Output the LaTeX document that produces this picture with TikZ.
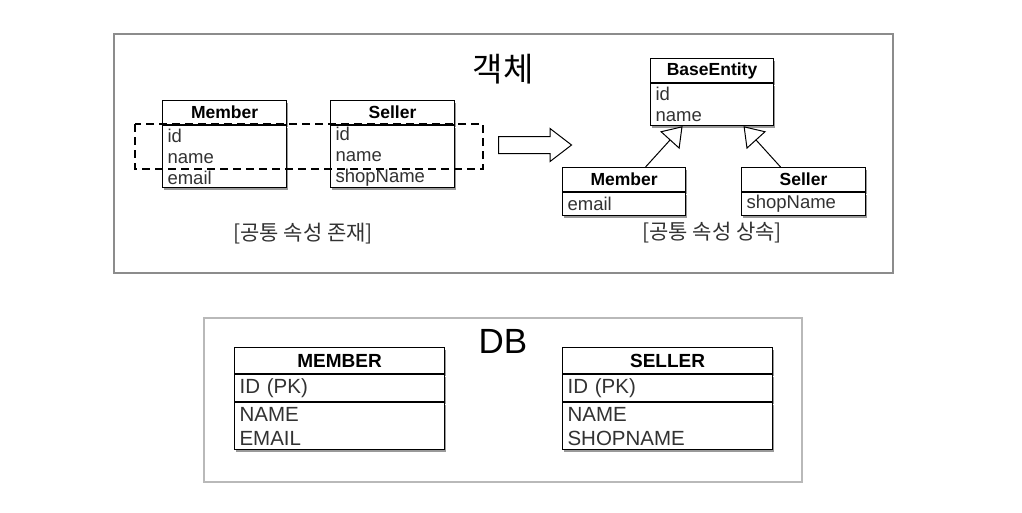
\documentclass[tikz,border=0pt]{standalone}
\usepackage{fontspec}
\setmainfont{Liberation Sans}
\newfontfamily\krfont{Noto Sans CJK KR}
\usepackage{tikz}
\usetikzlibrary{arrows.meta,shadows,shapes.arrows}
\definecolor{framegray}{RGB}{140,140,140}
\definecolor{dbgray}{RGB}{185,185,185}
\definecolor{txtgray}{RGB}{50,50,50}
\newcommand\hdrfont{\fontsize{17.5}{20}\selectfont\bfseries}
\newcommand\attrfont{\fontsize{18.5}{21}\selectfont}
\newcommand\dbhdrfont{\fontsize{19}{22}\selectfont\bfseries}
\newcommand\dbattrfont{\fontsize{20.5}{24}\selectfont}
\tikzset{
  frame/.style={draw=framegray, line width=1.4pt},
  dbframe/.style={draw=dbgray, line width=1.2pt},
  boxshadow/.style={drop shadow={shadow xshift=1.2pt, shadow yshift=-2.5pt, opacity=.4, fill=black}},
  hdr/.style 2 args={draw, fill=white, line width=1.1pt, boxshadow, anchor=north west,
    inner sep=0pt, minimum width=#1, minimum height=#2},
  attrs/.style 2 args={draw, fill=white, line width=1.1pt, boxshadow, anchor=north west,
    inner ysep=0pt, inner xsep=5pt, align=left, text=txtgray,
    minimum width=#1, text width=#1-10pt, minimum height=#2},
  inherit/.style={line width=1pt, -{Triangle[open, length=19pt, width=26pt]}},
  kr/.style={font=\krfont\fontsize{21}{24}\selectfont, text=txtgray}
}

\begin{document}
\begin{tikzpicture}[x=1pt,y=-1pt]
    \useasboundingbox (0,0) rectangle (1022,512);
    % object side
    \draw[frame] (114,34) rectangle (893,273);
    \node[font=\krfont\fontsize{33}{36}\selectfont] (objtitle) at (503,69) {객체};

    \node[hdr={124}{24}, font=\hdrfont] (memh) at (162,100) {Member};
    \node[attrs={124}{62}, font=\attrfont] (memb) at (memh.south west) {id\\name\\email};
    \node[hdr={124}{24}, font=\hdrfont] (selh) at (330,100) {Seller};
    \node[attrs={124}{62}, font=\attrfont] (selb) at (selh.south west) {id\\name\\shopName};
    \draw[dashed, dash pattern=on 8pt off 5pt, line width=1.1pt] (135,124) rectangle (483,169);
    \node[kr] (common) at (303,234) {[공통 속성 존재]};

    \node[single arrow, draw, line width=1pt, minimum height=73pt, inner xsep=0pt, inner ysep=8pt,
          single arrow head extend=8pt, single arrow tip angle=75] (toinh) at (529.5,145) {};

    \node[hdr={123}{24}, font=\hdrfont] (baseh) at (650,58) {BaseEntity};
    \node[attrs={123}{42}, font=\attrfont] (baseb) at (baseh.south west) {id\\name};
    \node[hdr={123}{24}, font=\hdrfont] (cmemh) at (562,167) {Member};
    \node[attrs={123}{23}, font=\attrfont] (cmemb) at (cmemh.south west) {email};
    \node[hdr={124}{24}, font=\hdrfont] (cselh) at (741,167) {Seller};
    \node[attrs={124}{23}, font=\attrfont] (cselb) at (cselh.south west) {shopName};
    \draw[inherit] ([xshift=21.5pt]cmemh.north) -- ([xshift=-29.5pt]baseb.south);
    \draw[inherit] ([xshift=-23pt]cselh.north) -- ([xshift=31.5pt]baseb.south);
    \node[kr] (inherited) at (712,233) {[공통 속성 상속]};

    % db side
    \draw[dbframe] (204,318) rectangle (802,482);
    \node[font=\fontsize{35}{38}\selectfont] (dbtitle) at (503,341) {DB};

    \node[hdr={210}{26}, font=\dbhdrfont] (tmemh) at (234,347) {MEMBER};
    \node[attrs={210}{27}, font=\dbattrfont, inner xsep=5pt] (tmemk) at (tmemh.south west) {ID (PK)};
    \node[attrs={210}{47}, font=\dbattrfont, inner xsep=5pt] (tmemb) at (tmemk.south west) {NAME\\EMAIL};
    \node[hdr={210}{26}, font=\dbhdrfont] (tselh) at (562,347) {SELLER};
    \node[attrs={210}{27}, font=\dbattrfont, inner xsep=5pt] (tselk) at (tselh.south west) {ID (PK)};
    \node[attrs={210}{47}, font=\dbattrfont, inner xsep=5pt] (tselb) at (tselk.south west) {NAME\\SHOPNAME};
\end{tikzpicture}
\end{document}
